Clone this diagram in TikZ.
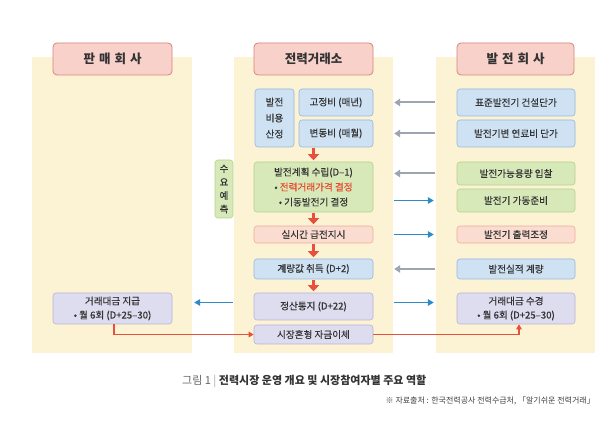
\documentclass[tikz,border=0pt]{standalone}
\usepackage{fontspec}
\setmainfont{Noto Sans CJK KR}
\newfontfamily\medfont{Noto Sans CJK KR}[FakeBold=0.35]
\usetikzlibrary{arrows.meta}
\definecolor{cream}{HTML}{FCF2D4}
\definecolor{titlefill}{HTML}{F9D1CB}
\definecolor{titledraw}{HTML}{D98478}
\definecolor{bluefill}{HTML}{CFE2F4}
\definecolor{bluedraw}{HTML}{94B8DD}
\definecolor{greenfill}{HTML}{D7E9B8}
\definecolor{greendraw}{HTML}{B3D28A}
\definecolor{pinkfill}{HTML}{FBDCD0}
\definecolor{pinkdraw}{HTML}{F0AE98}
\definecolor{lavfill}{HTML}{DEDCEF}
\definecolor{lavdraw}{HTML}{B7B3D6}
\definecolor{grayarrow}{HTML}{9CA5B0}
\definecolor{bluearrow}{HTML}{2C8CC8}
\definecolor{redarrow}{HTML}{E8503E}
\definecolor{txt}{HTML}{333333}
\definecolor{redtxt}{HTML}{E8472F}
\tikzset{
  panel/.style={fill=cream, inner sep=0pt, minimum height=296pt},
  titlebox/.style={fill=titlefill, draw=titledraw, line width=0.8pt, rounded corners=4pt,
    minimum height=32pt, inner sep=0pt, text=txt, font=\fontsize{12.5}{14}\selectfont\bfseries},
  box/.style={rounded corners=3pt, line width=0.6pt, inner sep=0pt, align=center, text=txt,
    font=\medfont\fontsize{9.6}{15}\selectfont},
  bluebox/.style={box, fill=bluefill, draw=bluedraw},
  greenbox/.style={box, fill=greenfill, draw=greendraw},
  pinkbox/.style={box, fill=pinkfill, draw=pinkdraw},
  lavbox/.style={box, fill=lavfill, draw=lavdraw},
  garrow/.style={draw=grayarrow, line width=2pt, -{Triangle[length=6pt,width=7.5pt]}, shorten <=1pt, shorten >=1pt},
  barrow/.style={draw=bluearrow, line width=1.6pt, -{Triangle[length=6pt,width=6.5pt]}, shorten <=1pt, shorten >=2pt},
  rarrow/.style={draw=redarrow, line width=3.6pt, -{Triangle[length=6pt,width=11pt]}, shorten <=1pt, shorten >=1.5pt},
  rline/.style={draw=redarrow, line width=1.2pt, -{Triangle[length=5pt,width=5.5pt]}},
}
\begin{document}
\begin{tikzpicture}[x=1pt,y=-1pt]
\useasboundingbox[fill=white] (0,0) rectangle (600,430);
% panels
\node[panel, minimum width=160pt] (lp) at (112,205) {};
\node[panel, minimum width=159pt] (mp) at (313.5,205) {};
\node[panel, minimum width=159pt] (rp) at (515.5,205) {};
% titles
\node[titlebox, minimum width=119pt] (lt) at (112.5,59) {판\hspace{4pt}매\hspace{4pt}회\hspace{4pt}사};
\node[titlebox, minimum width=119pt] (mt) at (313.5,59) {전력거래소};
\node[titlebox, minimum width=117pt] (rt) at (515.5,59) {발\hspace{4pt}전\hspace{4pt}회\hspace{4pt}사};
% middle column
\node[bluebox, minimum width=39pt, minimum height=58pt, font=\medfont\fontsize{9.6}{16}\selectfont] (cost) at (274.5,118) {발전\\비용\\산정};
\node[bluebox, minimum width=74pt, minimum height=27pt] (fixed) at (336,102.5) {고정비 (매년)};
\node[bluebox, minimum width=74pt, minimum height=27pt] (var) at (336,133.5) {변동비 (매월)};
\node[greenbox, minimum width=18pt, minimum height=58pt, font=\medfont\fontsize{9.6}{13.5}\selectfont] (demand) at (224,189) {수\\요\\예\\측};
\node[greenbox, minimum width=119pt, minimum height=50pt] (plan) at (313.5,187) {발전계획 수립(D–1)\\• {\color{redtxt}전력거래가격 결정}\\• 기동발전기 결정};
\node[pinkbox, minimum width=119pt, minimum height=17pt] (rtd) at (313.5,234.5) {실시간 급전지시};
\node[bluebox, minimum width=119pt, minimum height=20pt] (meter) at (313.5,269) {계량값 취득 (D+2)};
\node[lavbox, minimum width=119pt, minimum height=27pt] (settle) at (313.5,306.5) {정산통지 (D+22)};
\node[lavbox, minimum width=119pt, minimum height=19pt] (transfer) at (313.5,334.5) {시장혼형 자금이체};
% right column
\node[bluebox, minimum width=118pt, minimum height=27pt] (r1) at (516,102.5) {표준발전기 건설단가};
\node[bluebox, minimum width=118pt, minimum height=27pt] (r2) at (516,133.5) {발전기변 연료비 단가};
\node[greenbox, minimum width=118pt, minimum height=23pt] (r3) at (516,173.5) {발전가능용량 입찰};
\node[greenbox, minimum width=118pt, minimum height=23pt] (r4) at (516,200.5) {발전기 가동준비};
\node[pinkbox, minimum width=118pt, minimum height=17pt] (r5) at (516,234.5) {발전기 출력조정};
\node[bluebox, minimum width=118pt, minimum height=20pt] (r6) at (516,269) {발전실적 계량};
\node[lavbox, minimum width=118pt, minimum height=31pt, font=\medfont\fontsize{9.6}{14}\selectfont] (r7) at (516,308.5) {거래대금 수경\\• 월 6회 (D+25–30)};
% left column
\node[lavbox, minimum width=119pt, minimum height=31pt, font=\medfont\fontsize{9.6}{14}\selectfont] (l1) at (112.5,308.5) {거래대금 지급\\• 월 6회 (D+25–30)};
% gray arrows (right to middle)
\draw[garrow] (rp.west |- r1) -- (mp.east |- r1);
\draw[garrow] (rp.west |- r2) -- (mp.east |- r2);
\draw[garrow] (rp.west |- r3) -- (mp.east |- r3);
\draw[garrow] (rp.west |- r6) -- (mp.east |- r6);
% blue arrows
\draw[barrow] (mp.east |- r4) -- (rp.west |- r4);
\draw[barrow] (mp.east |- rtd) -- (rp.west |- rtd);
\draw[barrow] ([yshift=4pt]mp.east |- settle) -- ([yshift=4pt]rp.west |- settle);
\draw[barrow] ([yshift=4pt]mp.west |- settle) -- ([yshift=4pt]lp.east |- settle);
% red vertical arrows
\draw[rarrow] (var.south -| plan.north) -- (plan.north);
\draw[rarrow] (plan.south) -- (rtd.north);
\draw[rarrow] (rtd.south) -- (meter.north);
\draw[rarrow] (meter.south) -- (settle.north);
% red connector lines
\draw[rline] ([xshift=1.5pt]l1.south) |- (transfer.west);
\draw[rline] (transfer.east) -| ([xshift=3pt]r7.south);
% captions
\node[anchor=west, inner sep=0pt, font=\fontsize{11}{13}\selectfont] (cap) at (182,381)
  {{\color{black!60}그림 1} {\color{black!35}|} {\bfseries\color{txt}전력시장 운영 개요 및 시장참여자별 주요 역할}};
\node[anchor=east, inner sep=0pt, font=\fontsize{8}{10}\selectfont, text=black!75] (src) at (595,401)
  {※ 자료출처 : 한국전력공사 전력수급처, 「알기쉬운 전력거래」};
\end{tikzpicture}
\end{document}
